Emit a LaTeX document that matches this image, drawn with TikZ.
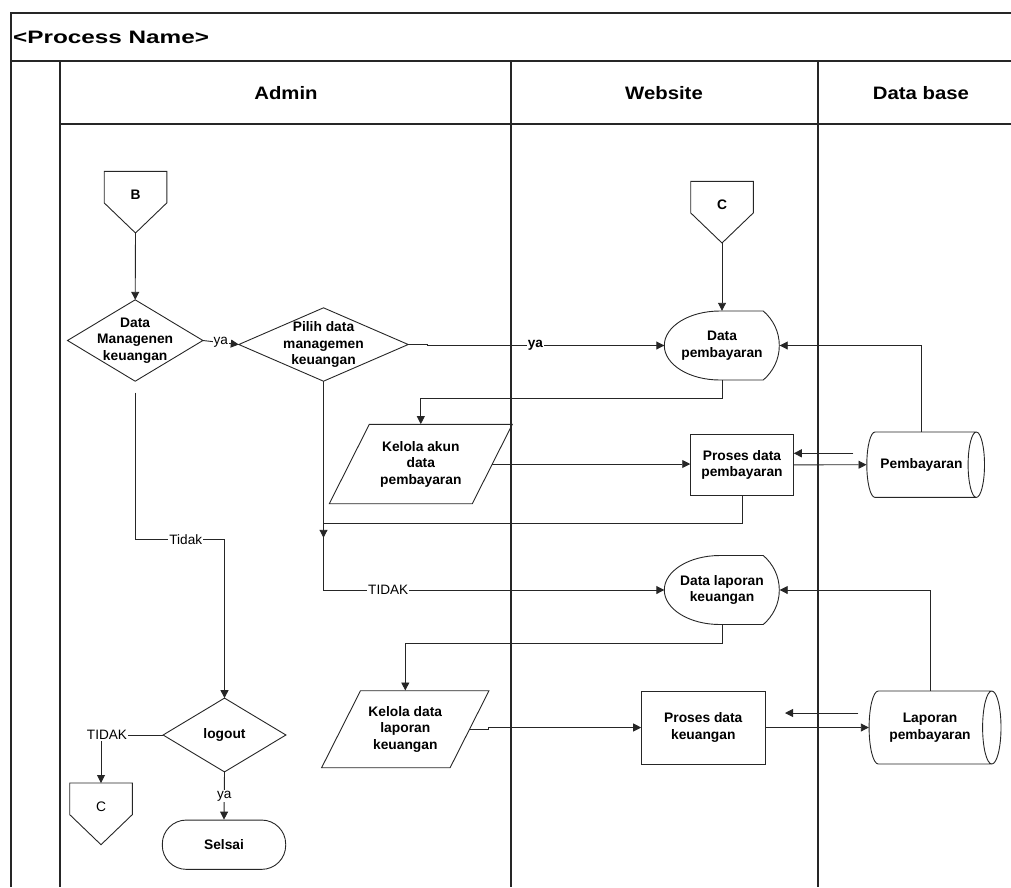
\documentclass[tikz,border=0pt]{standalone}
\usepackage{fontspec}
\usepackage{graphicx}
\setmainfont{Liberation Sans}
\usetikzlibrary{arrows.meta,calc}
\newcommand{\diamondout}[1]{\draw[shapeline] (#1.west) -- (#1.north) -- (#1.east) -- (#1.south) -- cycle;}
\newcommand{\offpageout}[1]{%
  \draw[shapeline, shift={(#1.center)}] (-31.3,-23.7) -- (31.3,-23.7) -- (31.3,7.9) -- (0,38) -- (-31.3,7.9) -- cycle;
  \coordinate (#1-tip) at ($(#1.center)+(0,38)$);
  \coordinate (#1-top) at ($(#1.center)+(0,-23.7)$);}
\newcommand{\displayout}[1]{%
  \draw[shapeline, shift={(#1.center)}] (-2,-34.5) -- (41.3,-34.5) .. controls (51,-26) and (57.3,-14) .. (57.3,0) .. controls (57.3,14) and (51,26) .. (41.3,34.5) -- (-2,34.5) .. controls (-33,34.5) and (-57.7,19) .. (-57.7,0) .. controls (-57.7,-19) and (-33,-34.5) .. (-2,-34.5) -- cycle;}
\newcommand{\paraout}[4]{%
  \draw[shapeline, shift={(#1.center)}] (-#2,-#4) -- (#3,-#4) -- (#2,#4) -- (-#3,#4) -- cycle;
  \coordinate (#1-e) at ($(#1.center)+({(#2+#3)/2},0)$);}
\newcommand{\cylout}[5]{%
  \draw[shapeline, shift={(#1.center)}] (-#2,-#5) -- (#4,-#5) (#4,#5) -- (-#2,#5)
    .. controls ({-#2-0.552*#3},#5) and ({-#2-#3},{0.552*#5}) .. ({-#2-#3},0)
    .. controls ({-#2-#3},{-0.552*#5}) and ({-#2-0.552*#3},-#5) .. (-#2,-#5)
    (#4,0) ellipse [x radius=#3, y radius=#5];}
\begin{document}
\begin{tikzpicture}[x=1pt,y=-1pt,
  frame/.style={line width=1.1pt, draw=black!85},
  shapeline/.style={line width=0.9pt, draw=black!85},
  conn/.style={line width=0.9pt, draw=black!85, -{Triangle[length=8pt,width=8pt]}},
  txt/.style={font=\fontsize{13.8}{16.5}\selectfont\bfseries, align=center, inner sep=0pt},
  ghost/.style 2 args={txt, minimum width=#1, minimum height=#2},
  proc/.style 2 args={txt, draw=black!85, line width=0.9pt, minimum width=#1, minimum height=#2},
  lbl/.style={font=\fontsize{13.6}{16}\selectfont, fill=white, inner sep=1pt},
  head/.style={font=\fontsize{18}{20}\selectfont\bfseries, inner sep=0pt}]
\useasboundingbox (0,0) rectangle (1011,887);
% frame
\draw[frame] (11,887) -- (11,13) -- (1011,13);
\draw[frame] (11,61) -- (1011,61);
\draw[frame] (60,124) -- (1011,124);
\draw[frame] (60,61) -- (60,887);
\draw[frame] (511,61) -- (511,887);
\draw[frame] (818,61) -- (818,887);
\node[head, anchor=west] (title) at (13,37) {\scalebox{1.35}[1]{<Process Name>}};
\node[head] (hadmin) at (286,93) {\scalebox{1.13}[1]{Admin}};
\node[head] (hweb) at (664,93) {\scalebox{1.13}[1]{Website}};
\node[head] (hdb) at (921,93) {\scalebox{1.13}[1]{Data base}};
% nodes
\node[txt] (B) at (135.5,195) {B}; \offpageout{B}
\node[ghost={135}{81}] (d1) at (135.2,340.5) {Data\\Managenen\\keuangan}; \diamondout{d1}
\node[ghost={169}{73}] (d2) at (323.5,344.5) {Pilih data\\managemen\\keuangan}; \diamondout{d2}
\node[txt] (C1) at (722,205) {C}; \offpageout{C1}
\node[ghost={115}{69}] (dp) at (722,345.5) {Data\\pembayaran}; \displayout{dp}
\node[ghost={100}{79.4}] (ka) at (420.8,464) {Kelola akun\\data\\pembayaran}; \paraout{ka}{51.5}{91.5}{39.7}
\node[proc={102.6}{61.7}] (pd) at (742,464.85) {Proses data\\pembayaran};
\node[ghost={109.6}{65.3}] (pb) at (921.5,464.7) {Pembayaran}; \cylout{pb}{46.5}{8.2}{54.8}{32.7}
\node[ghost={115}{69}] (dl) at (722,590) {Data laporan\\keuangan}; \displayout{dl}
\node[ghost={90}{77}] (kl) at (405.3,729.2) {Kelola data\\laporan\\keuangan}; \paraout{kl}{44.8}{83.7}{38.5}
\node[proc={123.3}{73}] (pk) at (703.3,727.5) {Proses data\\keuangan};
\node[ghost={122}{73}] (lp) at (930,727.5) {Laporan\\pembayaran}; \cylout{lp}{51.7}{9.2}{61.8}{36.5}
\node[ghost={122.4}{73.4}] (lo) at (224.5,735) {logout}; \diamondout{lo}
\node[txt, font=\fontsize{13.8}{16.5}\selectfont] (C2) at (101,806.7) {C}; \offpageout{C2}
\node[proc={123.4}{49.3}, rounded corners=24pt] (se) at (224,844.7) {Selsai};
% coordinates
\coordinate (d1b) at ($(d1.south)+(0,11.5)$);
\coordinate (t1) at (224.5,539.3);
\coordinate (m1) at (323.5,523.3);
\coordinate (pbret) at (853.3,453.3);
\coordinate (lpret) at (858.3,713);
\coordinate (lpend) at (785,713);
% connectors
\draw[conn] (B-tip) -- (d1.north);
\draw[conn] (d1.east) -- node[lbl] {ya} (d2.west);
\draw[conn] (d2.east) -- ++(19,0) |- node[lbl, pos=0.728, font=\fontsize{13.6}{16}\selectfont\bfseries] {ya} (dp.west);
\draw[conn] (C1-tip) -- (dp.north);
\draw[conn] (pb.north) |- (dp.east);
\draw[conn] (dp.south) -- ++(0,18.3) -| (ka.north);
\draw[conn] (ka-e) -- (ka-e -| pd.west);
\draw[conn] (pd.east) -- (pb.west);
\draw[conn] (pbret) -- (pbret -| pd.east);
\draw[conn] (pd.south) |- (m1) -- ++(0,14.5);
\draw[conn] (d2.south) |- node[lbl, pos=0.595] {TIDAK} (dl.west);
\draw[conn] (lp.north) |- (dl.east);
\draw[conn] (dl.south) -- ++(0,18.7) -| (kl.north);
\draw[conn] (kl-e) -- ++(19,0) |- (pk.west);
\draw[conn] (pk.east) -- (lp.west);
\draw[conn] (lpret) -- (lpend);
\draw[conn] (d1b) |- node[lbl, pos=0.783] {Tidak} (lo.north |- t1) -- (lo.north);
\draw[conn] (lo.west) -| node[lbl, pos=0.5, xshift=6pt] {TIDAK} (C2-top);
\draw[conn] (lo.south) -- node[lbl] {ya} (se.north);
\end{tikzpicture}
\end{document}
